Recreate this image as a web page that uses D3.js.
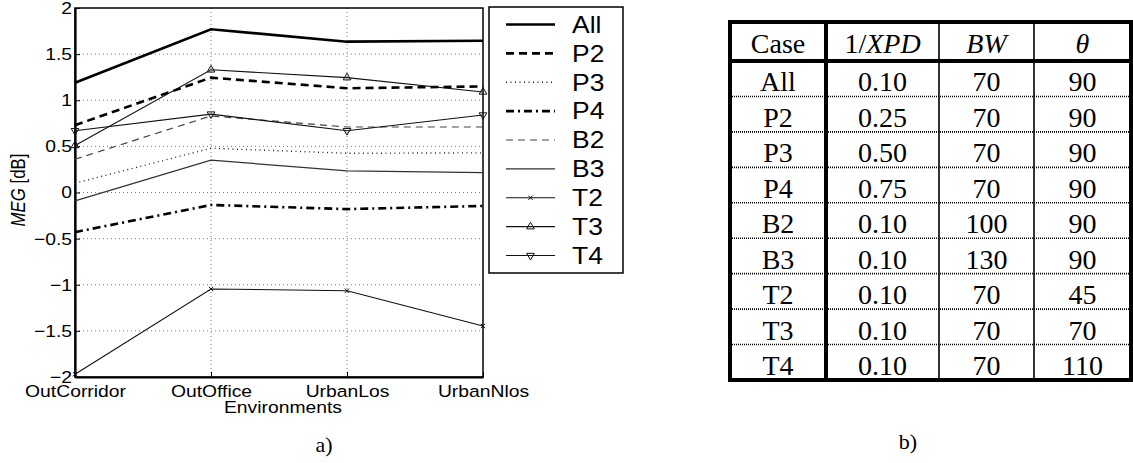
<!DOCTYPE html>
<html>
<head>
<meta charset="utf-8">
<script src="https://cdn.jsdelivr.net/npm/d3@7"></script>
<style>
  body { margin: 0; background: #fff; }
  svg { display: block; }
</style>
</head>
<body>
<svg id="fig" width="1133" height="463"></svg>
<script>
// values
const environments = ["OutCorridor", "OutOffice", "UrbanLos", "UrbanNlos"];
const caseNames = ["All", "P2", "P3", "P4", "B2", "B3", "T2", "T3", "T4"];
const megAll = [1.19, 1.77, 1.635, 1.645];
const megP2 = [0.73, 1.245, 1.13, 1.15];
const megP3 = [0.1, 0.48, 0.425, 0.43];
const megP4 = [-0.43, -0.135, -0.18, -0.146];
const megB2 = [0.36, 0.83, 0.71, 0.71];
const megB3 = [-0.09, 0.35, 0.235, 0.215];
const megT2 = [-1.97, -1.046, -1.065, -1.447];
const megT3 = [0.51, 1.33, 1.245, 1.09];
const megT4 = [0.67, 0.85, 0.67, 0.84];
const yTicks = [-2, -1.5, -1, -0.5, 0, 0.5, 1, 1.5, 2];
const yTickLabels = ["\u22122", "\u22121.5", "\u22121", "\u22120.5", "0", "0.5", "1", "1.5", "2"];

// table b)
const invXpd = ["0.10", "0.25", "0.50", "0.75", "0.10", "0.10", "0.10", "0.10", "0.10"];
const beamWidth = ["70", "70", "70", "70", "100", "130", "70", "70", "70"];
const tilt = ["90", "90", "90", "90", "90", "90", "45", "70", "110"];

const series = [megAll, megP2, megP3, megP4, megB2, megB3, megT2, megT3, megT4]
  .map((v, i) => ({name: caseNames[i], values: v}));

// line styles, matlab look
const styles = {
  All: {w: 2.6, dash: null, c: "#000"},
  P2:  {w: 2.6, dash: "8,5", c: "#000"},
  P3:  {w: 1.4, dash: "1,3.5", c: "#222"},
  P4:  {w: 2.6, dash: "8,4,2,4", c: "#000"},
  B2:  {w: 1.2, dash: "7,5", c: "#444"},
  B3:  {w: 1.2, dash: null, c: "#333"},
  T2:  {w: 1.1, dash: null, c: "#111", m: "x"},
  T3:  {w: 1.1, dash: null, c: "#111", m: "up"},
  T4:  {w: 1.1, dash: null, c: "#111", m: "down"}
};

const svg = d3.select("#fig");
const sx = 1.15; // the left panel is a bit wider than tall
const sans = "'Liberation Sans', Arial, sans-serif";
const serif = "'Liberation Serif', 'Times New Roman', serif";

const plot = {left: 75, right: 483, top: 8, bottom: 377};
const x = d3.scalePoint().domain(environments).range([plot.left, plot.right]);
const y = d3.scaleLinear().domain([-2, 2]).range([plot.bottom, plot.top]);

// grid
const grid = svg.append("g").attr("stroke", "#777").attr("stroke-width", 1).attr("stroke-dasharray", "1,3");
grid.selectAll("line.gy").data(yTicks.slice(1, -1)).enter().append("line")
  .attr("x1", plot.left).attr("x2", plot.right)
  .attr("y1", d => y(d)).attr("y2", d => y(d));
grid.selectAll("line.gx").data(environments.slice(1, -1)).enter().append("line")
  .attr("y1", plot.top).attr("y2", plot.bottom)
  .attr("x1", d => x(d)).attr("x2", d => x(d));

// frame
svg.append("rect")
  .attr("x", plot.left).attr("y", plot.top)
  .attr("width", plot.right - plot.left).attr("height", plot.bottom - plot.top)
  .attr("fill", "none").attr("stroke", "#000").attr("stroke-width", 1.5);

// axes
const xAxis = svg.append("g")
  .attr("transform", "translate(0," + plot.bottom + ")")
  .call(d3.axisBottom(x).tickSize(-5).tickSizeOuter(0).tickPadding(8));
const yAxis = svg.append("g")
  .attr("transform", "translate(" + plot.left + ",0)")
  .call(d3.axisLeft(y).tickValues(yTicks).tickFormat((d, i) => yTickLabels[i])
    .tickSize(-5).tickSizeOuter(0).tickPadding(3));
[xAxis, yAxis].forEach(a => {
  a.select(".domain").attr("stroke-width", 2.2);
  a.selectAll(".tick line").attr("stroke-width", 1);
  a.selectAll("text")
    .attr("font-family", sans).attr("font-size", 16.8).attr("fill", "#000")
    .attr("transform", "scale(" + sx + ",1)");
});
xAxis.selectAll("text").attr("x", 0);
yAxis.selectAll("text").attr("x", -3 / sx);

// axis titles
svg.append("text")
  .attr("transform", "translate(283,413) scale(" + sx + ",1)")
  .attr("text-anchor", "middle")
  .attr("font-family", sans).attr("font-size", 16.8)
  .text("Environments");
const yl = svg.append("text")
  .attr("transform", "translate(25,190) scale(" + sx + ",1) rotate(-90)")
  .attr("text-anchor", "middle")
  .attr("font-family", sans).attr("font-size", 16.8);
yl.append("tspan").attr("font-style", "italic").text("MEG");
yl.append("tspan").text(" [dB]");

// lines
const line = d3.line().x((d, i) => x(environments[i])).y(d => y(d));
const markerPath = m => m === "x"
  ? d3.symbol(d3.symbolTimes, 14)()
  : d3.symbol(d3.symbolTriangle2, 42)();

const gLines = svg.append("g");
series.forEach(s => {
  const st = styles[s.name];
  gLines.append("path")
    .attr("d", line(s.values))
    .attr("fill", "none")
    .attr("stroke", st.c)
    .attr("stroke-width", st.w)
    .attr("stroke-dasharray", st.dash);
  if (st.m) {
    gLines.selectAll(null).data(s.values).enter().append("path")
      .attr("d", markerPath(st.m))
      .attr("transform", (d, i) => "translate(" + x(environments[i]) + "," + y(d) + ")" + (st.m === "down" ? " rotate(180)" : ""))
      .attr("fill", "none").attr("stroke", st.c).attr("stroke-width", 1);
  }
});

// legend
const legBox = {x: 489, y: 7, w: 134, h: 266};
svg.append("rect")
  .attr("x", legBox.x).attr("y", legBox.y).attr("width", legBox.w).attr("height", legBox.h)
  .attr("fill", "#fff").attr("stroke", "#000").attr("stroke-width", 1.5);
const ly = d3.scaleBand().domain(caseNames).range([legBox.y + 3, legBox.y + legBox.h - 3]);
const leg = svg.append("g").selectAll("g").data(series).enter().append("g")
  .attr("transform", d => "translate(0," + (ly(d.name) + ly.bandwidth() / 2) + ")");
leg.append("line")
  .attr("x1", 506).attr("x2", 555)
  .attr("stroke", d => styles[d.name].c)
  .attr("stroke-width", d => styles[d.name].w)
  .attr("stroke-dasharray", d => styles[d.name].dash);
leg.filter(d => styles[d.name].m).append("path")
  .attr("d", d => markerPath(styles[d.name].m))
  .attr("transform", d => "translate(530.5,0)" + (styles[d.name].m === "down" ? " rotate(180)" : ""))
  .attr("fill", "none").attr("stroke", "#111").attr("stroke-width", 1);
leg.append("text")
  .attr("transform", "translate(572,0) scale(" + sx + ",1)")
  .attr("dy", "0.36em")
  .attr("font-family", sans).attr("font-size", 23)
  .text(d => d.name);

// caption a)
svg.append("text")
  .attr("x", 324).attr("y", 452)
  .attr("text-anchor", "middle")
  .attr("font-family", serif).attr("font-size", 22)
  .text("a)");

// table b)
const tbl = {left: 730, right: 1131, top: 22, head: 61, bottom: 380};
const colEdges = [730, 826, 939, 1034, 1131];
const rows = d3.scaleBand().domain(caseNames).range([tbl.head, tbl.bottom]);
const colMid = i => (colEdges[i] + colEdges[i + 1]) / 2;
const gt = svg.append("g");

// dotted row separators
gt.selectAll("line.sep").data(caseNames.slice(1)).enter().append("line")
  .attr("x1", tbl.left).attr("x2", tbl.right)
  .attr("y1", d => rows(d)).attr("y2", d => rows(d))
  .attr("stroke", "#000").attr("stroke-width", 1.6).attr("stroke-dasharray", "1,1");

// thin column rules
gt.selectAll("line.col").data([colEdges[2], colEdges[3]]).enter().append("line")
  .attr("x1", d => d).attr("x2", d => d)
  .attr("y1", tbl.top).attr("y2", tbl.bottom)
  .attr("stroke", "#000").attr("stroke-width", 1.6);

// thick rules
gt.append("line").attr("x1", colEdges[1]).attr("x2", colEdges[1])
  .attr("y1", tbl.top).attr("y2", tbl.bottom)
  .attr("stroke", "#000").attr("stroke-width", 4);
gt.append("line").attr("x1", tbl.left).attr("x2", tbl.right)
  .attr("y1", tbl.head).attr("y2", tbl.head)
  .attr("stroke", "#000").attr("stroke-width", 4);
gt.append("rect")
  .attr("x", tbl.left).attr("y", tbl.top)
  .attr("width", tbl.right - tbl.left).attr("height", tbl.bottom - tbl.top)
  .attr("fill", "none").attr("stroke", "#000").attr("stroke-width", 4);

// header
const headY = tbl.head - 8;
const hdr = gt.append("g").attr("font-family", serif).attr("font-size", 28).attr("text-anchor", "middle");
hdr.append("text").attr("x", colMid(0)).attr("y", headY).text("Case");
const hx = hdr.append("text").attr("x", colMid(1)).attr("y", headY);
hx.append("tspan").text("1/");
hx.append("tspan").attr("font-style", "italic").text("XPD");
hdr.append("text").attr("x", colMid(2)).attr("y", headY).attr("font-style", "italic").text("BW");
hdr.append("text").attr("x", colMid(3)).attr("y", headY).attr("font-style", "italic").text("\u03b8");

// body
const columns = [caseNames, invXpd, beamWidth, tilt];
columns.forEach((col, ci) => {
  gt.append("g").selectAll("text").data(col).enter().append("text")
    .attr("x", colMid(ci))
    .attr("y", (d, i) => rows(caseNames[i]) + rows.bandwidth() - 5)
    .attr("text-anchor", "middle")
    .attr("font-family", serif).attr("font-size", 28)
    .text(d => d);
});

// caption b)
svg.append("text")
  .attr("x", 908).attr("y", 449)
  .attr("text-anchor", "middle")
  .attr("font-family", serif).attr("font-size", 22)
  .text("b)");
</script>
</body>
</html>
